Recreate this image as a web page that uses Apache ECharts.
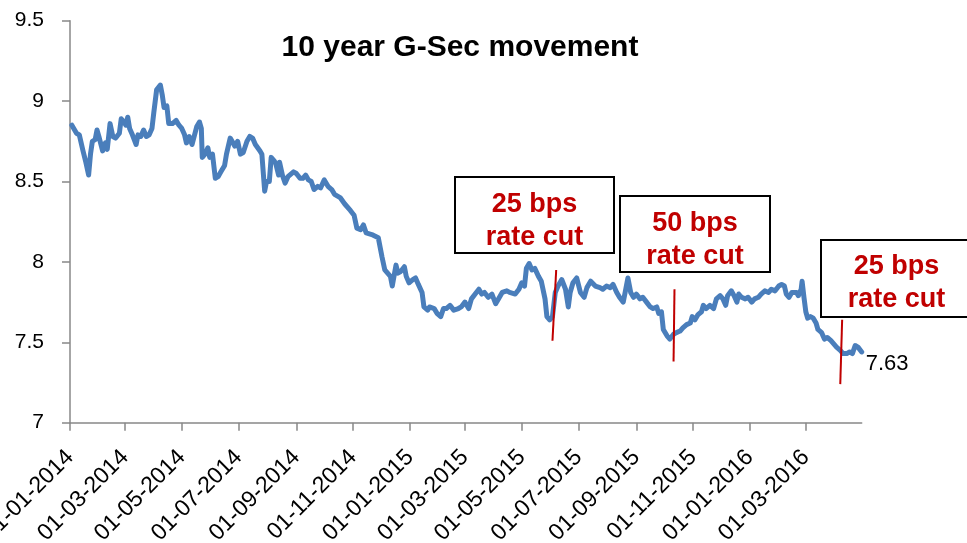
<!DOCTYPE html>
<html><head><meta charset="utf-8">
<script src="https://cdn.jsdelivr.net/npm/echarts@6/dist/echarts.min.js"></script>
<style>html,body{margin:0;padding:0;background:#fff}#c{width:967px;height:543px}</style>
</head><body><div id="c"></div>
<script>
const chartTitle = '10 year G-Sec movement';
const axisStart = '2014-01-01';
const axisEnd = '2016-04-30';
const tickLabels = ['01-01-2014','01-03-2014','01-05-2014','01-07-2014','01-09-2014','01-11-2014',
  '01-01-2015','01-03-2015','01-05-2015','01-07-2015','01-09-2015','01-11-2015','01-01-2016','01-03-2016'];

const dates = [
'2014-01-03','2014-01-08','2014-01-11','2014-01-15','2014-01-18','2014-01-21','2014-01-23','2014-01-25','2014-01-28','2014-01-30',
'2014-02-01','2014-02-05','2014-02-08','2014-02-10','2014-02-13','2014-02-16','2014-02-19','2014-02-23','2014-02-25','2014-02-28',
'2014-03-02','2014-03-04','2014-03-06','2014-03-09','2014-03-13','2014-03-15','2014-03-18','2014-03-21','2014-03-24','2014-03-27','2014-03-30',
'2014-04-01','2014-04-04','2014-04-08','2014-04-10','2014-04-12','2014-04-15','2014-04-17','2014-04-21','2014-04-25','2014-04-28',
'2014-05-01','2014-05-04','2014-05-06','2014-05-09','2014-05-12','2014-05-14','2014-05-17','2014-05-20','2014-05-22','2014-05-23','2014-05-26','2014-05-29','2014-05-31',
'2014-06-03','2014-06-06','2014-06-09','2014-06-12','2014-06-16','2014-06-18','2014-06-22','2014-06-24','2014-06-27','2014-06-30',
'2014-07-03','2014-07-06','2014-07-10','2014-07-13','2014-07-16','2014-07-19','2014-07-21','2014-07-24','2014-07-26','2014-07-29','2014-07-31',
'2014-08-03','2014-08-05','2014-08-08','2014-08-10','2014-08-13','2014-08-14','2014-08-17','2014-08-20','2014-08-23','2014-08-25','2014-08-29',
'2014-09-01','2014-09-05','2014-09-08','2014-09-11','2014-09-14','2014-09-17','2014-09-20','2014-09-24','2014-09-27',
'2014-10-01','2014-10-05','2014-10-09','2014-10-12','2014-10-18','2014-10-23','2014-10-29',
'2014-11-02','2014-11-05','2014-11-09','2014-11-12','2014-11-15','2014-11-21','2014-11-28',
'2014-12-02','2014-12-05','2014-12-11','2014-12-13','2014-12-17','2014-12-19','2014-12-22','2014-12-26','2014-12-28','2014-12-31',
'2015-01-04','2015-01-07','2015-01-10','2015-01-14','2015-01-16','2015-01-20','2015-01-22','2015-01-27','2015-01-30',
'2015-02-03','2015-02-06','2015-02-09','2015-02-13','2015-02-17','2015-02-22','2015-02-25',
'2015-03-01','2015-03-05','2015-03-08','2015-03-12','2015-03-16','2015-03-19','2015-03-22','2015-03-26','2015-03-30',
'2015-04-03','2015-04-06','2015-04-10','2015-04-15','2015-04-18','2015-04-24','2015-04-28',
'2015-05-01','2015-05-04','2015-05-06','2015-05-09','2015-05-12','2015-05-15','2015-05-19','2015-05-22','2015-05-26','2015-05-28','2015-05-31',
'2015-06-03','2015-06-06','2015-06-09','2015-06-13','2015-06-15','2015-06-17','2015-06-20','2015-06-22','2015-06-25','2015-06-29',
'2015-07-03','2015-07-07','2015-07-10','2015-07-14','2015-07-19','2015-07-24','2015-07-27','2015-07-31',
'2015-08-04','2015-08-07','2015-08-11','2015-08-14','2015-08-18','2015-08-20','2015-08-23','2015-08-26','2015-08-29',
'2015-09-01','2015-09-05','2015-09-08','2015-09-12','2015-09-16','2015-09-19','2015-09-23','2015-09-25','2015-09-28','2015-09-30',
'2015-10-04','2015-10-07','2015-10-11','2015-10-14','2015-10-18','2015-10-21','2015-10-25','2015-10-29','2015-10-31',
'2015-11-03','2015-11-06','2015-11-10','2015-11-12','2015-11-15','2015-11-19','2015-11-23','2015-11-26','2015-11-30',
'2015-12-03','2015-12-06','2015-12-08','2015-12-12','2015-12-15','2015-12-18','2015-12-20','2015-12-23','2015-12-27','2015-12-30',
'2016-01-03','2016-01-06','2016-01-10','2016-01-13','2016-01-17','2016-01-21','2016-01-24','2016-01-28',
'2016-02-01','2016-02-04','2016-02-07','2016-02-09','2016-02-12','2016-02-15','2016-02-17','2016-02-20','2016-02-22','2016-02-25','2016-02-26','2016-02-28',
'2016-03-01','2016-03-03','2016-03-06','2016-03-09','2016-03-12','2016-03-14','2016-03-18','2016-03-21','2016-03-24','2016-03-28','2016-03-30',
'2016-04-03','2016-04-07','2016-04-10','2016-04-14','2016-04-17','2016-04-20','2016-04-23','2016-04-26','2016-04-30'
];
const yields = [
8.85,8.80,8.79,8.69,8.62,8.54,8.67,8.75,8.76,8.82,
8.78,8.69,8.74,8.70,8.86,8.78,8.77,8.80,8.89,8.87,
8.85,8.90,8.83,8.79,8.73,8.79,8.78,8.82,8.78,8.79,8.83,
8.93,9.07,9.10,9.04,8.96,8.97,8.86,8.86,8.88,8.85,
8.83,8.79,8.74,8.78,8.73,8.74,8.84,8.87,8.83,8.65,8.67,8.71,8.65,
8.67,8.52,8.53,8.56,8.60,8.67,8.77,8.76,8.72,8.75,
8.67,8.68,8.75,8.78,8.77,8.73,8.72,8.69,8.67,8.44,8.50,
8.50,8.65,8.63,8.61,8.54,8.62,8.54,8.49,8.53,8.54,8.56,
8.55,8.52,8.52,8.54,8.51,8.50,8.45,8.47,8.46,
8.51,8.47,8.45,8.42,8.40,8.36,8.32,
8.29,8.21,8.20,8.23,8.18,8.17,8.15,
8.03,7.95,7.91,7.85,7.98,7.93,7.94,7.97,7.91,7.87,
7.89,7.90,7.86,7.81,7.72,7.70,7.72,7.71,7.68,
7.66,7.71,7.71,7.73,7.70,7.71,7.72,
7.75,7.71,7.77,7.80,7.83,7.80,7.81,7.78,7.80,
7.74,7.77,7.81,7.82,7.81,7.80,7.83,
7.87,7.85,7.96,7.99,7.95,7.96,7.91,7.88,7.77,7.66,7.64,
7.66,7.81,7.85,7.89,7.89,7.83,7.72,7.81,7.87,7.90,
7.81,7.78,7.84,7.88,7.85,7.84,7.83,7.85,
7.84,7.86,7.81,7.78,7.75,7.81,7.90,7.81,7.78,
7.80,7.77,7.78,7.75,7.72,7.71,7.72,7.68,7.69,7.58,
7.54,7.52,7.55,7.56,7.57,7.59,7.61,7.62,7.66,
7.64,7.67,7.69,7.73,7.71,7.73,7.71,7.77,7.79,
7.77,7.73,7.79,7.82,7.79,7.75,7.80,7.78,7.77,7.78,
7.75,7.77,7.78,7.80,7.82,7.81,7.83,7.82,
7.85,7.86,7.85,7.80,7.78,7.81,7.82,7.81,7.79,7.83,7.88,7.78,
7.69,7.65,7.66,7.65,7.62,7.58,7.56,7.52,7.53,7.51,7.52,
7.47,7.45,7.43,7.43,7.44,7.43,7.48,7.47,7.44
];
const lastLabel = '7.63';

const cutTexts = ['25 bps\nrate cut', '50 bps\nrate cut', '25 bps\nrate cut'];
const cutTopDates = ['2015-06-07', '2015-10-12', '2016-04-09'];
const cutTopValues = [7.95, 7.83, 7.64];
const cutBottomDates = ['2015-06-03', '2015-10-11', '2016-04-07'];
const cutBottomValues = [7.51, 7.38, 7.24];

// build the daily category axis
const categories = [];
{
  const p = s => { const a = s.split('-').map(Number); return Date.UTC(a[0], a[1] - 1, a[2]); };
  for (let t = p(axisStart); t <= p(axisEnd); t += 86400000) categories.push(new Date(t).toISOString().slice(0, 10));
}
const fmt = s => s.slice(8, 10) + '-' + s.slice(5, 7) + '-' + s.slice(0, 4);
const tickSet = new Set(tickLabels);
const showTick = (i, v) => tickSet.has(fmt(v));

const FONT = '"Liberation Sans", Arial, sans-serif';
const lineData = dates.map((d, i) => [d, yields[i]]);

const boxes = [
  { x: 455, y: 177, w: 159, h: 76 },
  { x: 620, y: 196, w: 150, h: 76 },
  { x: 821, y: 240, w: 152, h: 77 }
];
const textCenters = [[534.5, 221], [695, 240], [896.5, 283]];

const graphic = [
  { type: 'text', x: 460, y: 48, style: { text: chartTitle, fontSize: 30, fontWeight: 'bold', fontFamily: FONT, fill: '#000',
    textAlign: 'center', textVerticalAlign: 'middle' } }
];
boxes.forEach((b, i) => {
  graphic.push({ type: 'rect', shape: { x: b.x, y: b.y, width: b.w, height: b.h }, style: { fill: '#fff', stroke: '#000', lineWidth: 2 }, z: 10 });
  graphic.push({ type: 'text', x: textCenters[i][0], y: textCenters[i][1], z: 11,
    style: { text: cutTexts[i], fontSize: 27, fontWeight: 'bold', fontFamily: FONT, fill: '#C00000', lineHeight: 33,
      textAlign: 'center', textVerticalAlign: 'middle' } });
});

const chart = echarts.init(document.getElementById('c'), null, { renderer: 'canvas' });
chart.setOption({
  animation: false,
  backgroundColor: '#fff',
  grid: { left: 70, right: 105.3, top: 20.7, bottom: 120.3, containLabel: false, outerBoundsMode: 'none' },
  xAxis: {
    type: 'category', data: categories, boundaryGap: false,
    axisLine: { lineStyle: { color: '#888', width: 1.5 } },
    axisTick: { show: true, interval: showTick, length: 8, lineStyle: { color: '#888', width: 1.5 } },
    axisLabel: { interval: showTick, formatter: v => fmt(v), rotate: 45, margin: 31, fontSize: 23, color: '#000', fontFamily: FONT },
    splitLine: { show: false }
  },
  yAxis: {
    type: 'value', min: 7, max: 9.5, interval: 0.5,
    axisLine: { show: true, lineStyle: { color: '#888', width: 1.5 } },
    axisTick: { show: true, inside: false, length: 8, lineStyle: { color: '#888', width: 1.5 } },
    axisLabel: { margin: 26, fontSize: 21, color: '#000', fontFamily: FONT },
    splitLine: { show: false }
  },
  series: [{
    type: 'line', data: lineData, showSymbol: false, symbol: 'none', smooth: false,
    lineStyle: { color: '#4A7EBB', width: 5, cap: 'round', join: 'round' },
    itemStyle: { color: '#4A7EBB' },
    endLabel: { show: true, formatter: lastLabel, distance: 4, offset: [0, 12], fontSize: 22, color: '#000', fontFamily: FONT },
    markLine: {
      silent: true, symbol: ['none', 'none'], label: { show: false },
      lineStyle: { color: '#C00000', width: 2, type: 'solid' },
      data: cutTopDates.map((d, i) => [
        { coord: [categories.indexOf(d), cutTopValues[i]] },
        { coord: [categories.indexOf(cutBottomDates[i]), cutBottomValues[i]] }
      ])
    }
  }],
  graphic: graphic
});
</script></body></html>
